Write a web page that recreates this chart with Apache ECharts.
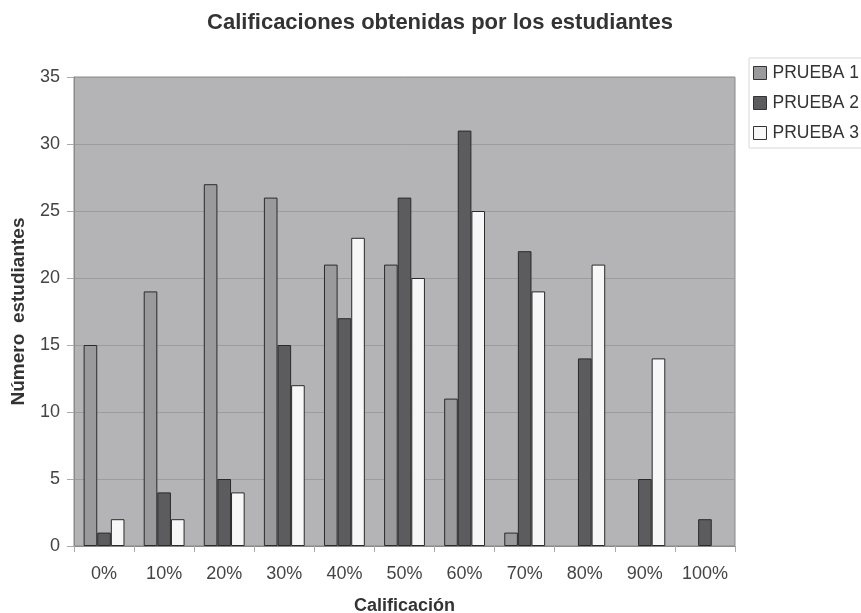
<!DOCTYPE html>
<html><head><meta charset="utf-8">
<script src="https://cdn.jsdelivr.net/npm/echarts@6/dist/echarts.min.js"></script>
<style>html,body{margin:0;padding:0;background:#fff}#c{width:861px;height:613px}</style>
</head><body><div id="c"></div>
<script>
const categories = ['0%','10%','20%','30%','40%','50%','60%','70%','80%','90%','100%'];
const prueba1 = [15,19,27,26,21,21,11,1,0,0,0];
const prueba2 = [1,4,5,15,17,26,31,22,14,5,2];
const prueba3 = [2,2,4,12,23,20,25,19,21,14,0];
const yTicks = [0,5,10,15,20,25,30,35];
const seriesNames = ['PRUEBA 1','PRUEBA 2','PRUEBA 3'];

const font = 'Liberation Sans, Arial, sans-serif';
const chart = echarts.init(document.getElementById('c'));
const colors = ['#9a9a9c','#5c5c5e','#f7f7f7'];
chart.setOption({
  animation:false,
  textStyle:{fontFamily:font},
  title:{text:'Calificaciones obtenidas por los estudiantes',left:435,top:7,textAlign:'center',
    textStyle:{fontFamily:font,fontSize:22,fontWeight:'bold',color:'#333'}},
  legend:{orient:'vertical',left:749,top:58,itemWidth:13,itemHeight:13,itemGap:12,
    padding:[6,10,6,4],borderColor:'#d8d8d8',borderWidth:1,
    textStyle:{fontFamily:font,fontSize:17.5,color:'#333',padding:[0,0,0,1]},
    data:seriesNames.map((n,i)=>({name:n,icon:'rect',itemStyle:{color:colors[i],borderColor:'#333',borderWidth:1}}))},
  grid:{left:74,top:77,right:126,bottom:67,containLabel:false,outerBoundsMode:'none',
    show:true,backgroundColor:'#b4b4b6',borderColor:'#8a8a8a',borderWidth:1},
  xAxis:{type:'category',data:categories,
    name:'Calificación',nameLocation:'middle',nameGap:51,
    nameTextStyle:{fontFamily:font,fontSize:18,fontWeight:'bold',color:'#333'},
    axisLine:{lineStyle:{color:'#8a8a8a'}},
    axisTick:{show:true,length:6,lineStyle:{color:'#aaa'}},
    axisLabel:{fontFamily:font,fontSize:18,color:'#444',margin:19,interval:0}},
  yAxis:{type:'value',min:0,max:35,interval:5,
    name:'Número  estudiantes',nameLocation:'middle',nameGap:46,
    nameTextStyle:{fontFamily:font,fontSize:19,fontWeight:'bold',color:'#333'},
    axisLine:{show:true,lineStyle:{color:'#8a8a8a'}},
    axisTick:{show:true,length:7,lineStyle:{color:'#aaa'}},
    splitLine:{lineStyle:{color:'#9c9c9e'}},
    axisLabel:{fontFamily:font,fontSize:18,color:'#444',margin:14,
      formatter:v=>yTicks.includes(v)?String(v):''}},
  series:[prueba1,prueba2,prueba3].map((d,i)=>({
    name:seriesNames[i],type:'bar',
    data:d.map(v=>v===0?{value:v,itemStyle:{borderWidth:0,opacity:0}}:v),
    barGap:'0%',barCategoryGap:'32%',
    itemStyle:{color:colors[i],borderColor:'#2a2a2a',borderWidth:1}
  }))
});
</script></body></html>
